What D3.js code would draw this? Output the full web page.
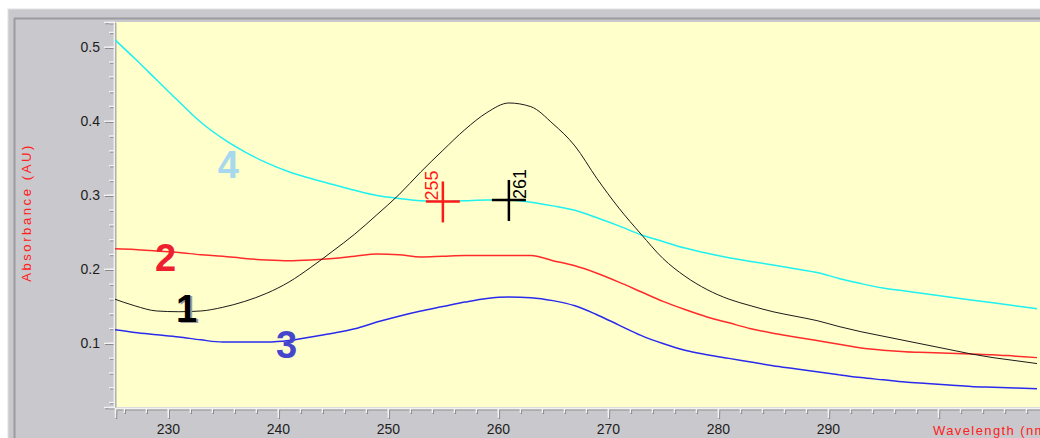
<!DOCTYPE html>
<html>
<head>
<meta charset="utf-8">
<script src="https://cdn.jsdelivr.net/npm/d3@7"></script>
<style>
  body { margin: 0; background: #fff; }
  svg { display: block; }
  text { font-family: "Liberation Sans", Arial, sans-serif; }
</style>
</head>
<body>
<div id="chart"></div>
<script>
// wavelength samples (nm)
var wavelengths = [225, 227, 229, 231, 233, 235, 237, 239, 241, 243, 245, 247, 249, 251,
  253, 255, 257, 259, 261, 263, 265, 267, 269, 271, 273, 275, 277, 279, 281, 283, 285,
  287, 289, 291, 293, 295, 297, 299, 301, 303, 305, 307, 309];

// absorbance (AU) for each trace
var trace1 = [0.160, 0.150, 0.143, 0.142, 0.143, 0.148, 0.156, 0.167, 0.182, 0.202, 0.224,
  0.247, 0.273, 0.300, 0.331, 0.360, 0.388, 0.411, 0.424, 0.419, 0.396, 0.366, 0.322,
  0.282, 0.247, 0.214, 0.190, 0.172, 0.159, 0.150, 0.142, 0.136, 0.130, 0.122, 0.115,
  0.109, 0.103, 0.097, 0.091, 0.085, 0.080, 0.076, 0.072];
var trace2 = [0.227, 0.226, 0.224, 0.222, 0.219, 0.217, 0.214, 0.212, 0.211, 0.212, 0.214,
  0.217, 0.220, 0.219, 0.216, 0.217, 0.218, 0.218, 0.218, 0.218, 0.211, 0.204, 0.194,
  0.182, 0.169, 0.156, 0.145, 0.135, 0.127, 0.119, 0.113, 0.108, 0.103, 0.098, 0.093,
  0.090, 0.088, 0.087, 0.086, 0.085, 0.084, 0.082, 0.080];
var trace3 = [0.118, 0.114, 0.111, 0.108, 0.104, 0.101, 0.101, 0.101, 0.103, 0.108, 0.113,
  0.119, 0.128, 0.136, 0.143, 0.149, 0.155, 0.160, 0.162, 0.161, 0.157, 0.150, 0.138,
  0.124, 0.110, 0.099, 0.090, 0.084, 0.079, 0.074, 0.069, 0.065, 0.061, 0.057, 0.053,
  0.050, 0.047, 0.045, 0.043, 0.041, 0.040, 0.039, 0.038];
var trace4 = [0.512, 0.484, 0.455, 0.426, 0.398, 0.376, 0.358, 0.343, 0.331, 0.322, 0.314,
  0.306, 0.299, 0.295, 0.292, 0.291, 0.292, 0.293, 0.293, 0.290, 0.285, 0.279, 0.269,
  0.258, 0.246, 0.237, 0.228, 0.221, 0.215, 0.210, 0.205, 0.200, 0.195, 0.187, 0.180,
  0.174, 0.170, 0.166, 0.162, 0.158, 0.154, 0.150, 0.146];

var traceColors = ["#1a1a1a", "#ff2b2b", "#2a2aee", "#1ff0f0"];
var traceWidths = [1, 1.5, 1.5, 1.5];

// big number labels next to each trace: [text, wavelength, absorbance]
var traceLabels = [["1", 231.7, 0.128], ["2", 229.8, 0.197], ["3", 240.8, 0.079], ["4", 235.5, 0.323]];
var traceLabelColors = ["#000000", "#ee2030", "#4646cc", "#a6d8ee"];

// peak markers: wavelength, absorbance, label
var markerNm = [255, 261];
var markerAbs = [0.291, 0.293];
var markerText = ["255", "261"];
var markerColors = ["#ff1a1a", "#000000"];

var yTicks = [0.1, 0.2, 0.3, 0.4, 0.5];
var xTicks = [230, 240, 250, 260, 270, 280, 290, 300];
var xTickLabels = ["230", "240", "250", "260", "270", "280", "290", ""];

var W = 1040, H = 438;
var plot = {left: 115, top: 22, right: 1048, bottom: 407};

var svg = d3.select("#chart").append("svg")
    .attr("width", W)
    .attr("height", H);

// window frame
svg.append("rect").attr("x", 8).attr("y", 9).attr("width", W).attr("height", H)
    .attr("fill", "#c9c8cd").attr("stroke", "#e2e2e4");
svg.append("line").attr("x1", 14).attr("x2", W).attr("y1", 18.5).attr("y2", 18.5)
    .attr("stroke", "#9c9ca0").attr("stroke-width", 2);
svg.append("line").attr("x1", 14.5).attr("x2", 14.5).attr("y1", 18).attr("y2", H)
    .attr("stroke", "#9c9ca0").attr("stroke-width", 2);

var x = d3.scaleLinear().domain([225.2, 310]).range([plot.left, plot.right]);
var y = d3.scaleLinear().domain([0.0133, 0.5334]).range([plot.bottom, plot.top]);

svg.append("defs").append("clipPath").attr("id", "clip")
  .append("rect")
    .attr("x", plot.left).attr("y", plot.top)
    .attr("width", plot.right - plot.left).attr("height", plot.bottom - plot.top);

svg.append("rect")
    .attr("x", plot.left).attr("y", plot.top)
    .attr("width", plot.right - plot.left).attr("height", plot.bottom - plot.top)
    .attr("fill", "#ffffcc");

// axes: light tick marks with a dark shadow under them
function drawAxes(dx, dy, color, labels) {
  var yMinor = d3.axisLeft(y).tickValues(d3.range(0.02, 0.53, 0.02)).tickSize(5).tickFormat("");
  var yMajor = d3.axisLeft(y).tickValues(yTicks).tickSize(10).tickPadding(4)
      .tickFormat(labels ? d3.format(".1f") : "");
  var xMinor = d3.axisBottom(x).tickValues(d3.range(226, 310, 2)).tickSize(5).tickFormat("");
  var xMajor = d3.axisBottom(x).tickValues(xTicks).tickSize(10).tickPadding(6)
      .tickFormat(function(d, i) { return labels ? xTickLabels[i] : ""; });

  [yMinor, yMajor].forEach(function(ax) {
    svg.append("g")
        .attr("class", "yaxis")
        .attr("transform", "translate(" + (plot.left - 1 + dx) + "," + dy + ")")
        .call(ax);
  });
  [xMinor, xMajor].forEach(function(ax) {
    svg.append("g")
        .attr("class", "xaxis")
        .attr("transform", "translate(" + dx + "," + (plot.bottom + 1 + dy) + ")")
        .call(ax);
  });
  svg.selectAll("g.yaxis, g.xaxis").filter(function() { return !this.dataset.done; })
      .each(function() {
        this.dataset.done = 1;
        var g = d3.select(this);
        g.selectAll("line").attr("stroke", color).attr("stroke-width", 1.4);
        g.select(".domain").attr("stroke", color).attr("stroke-width", 1.4);
        g.selectAll("text").attr("fill", "#1e1e1e").style("font-size", "14px")
          .style("font-family", "'Liberation Sans', Arial, sans-serif");
      });
}
drawAxes(1, 1, "#8a8a8e", false);
drawAxes(0, 0, "#f2f2f2", true);

svg.append("text")
    .attr("transform", "translate(31," + ((plot.top + plot.bottom) / 2 - 2) + ") rotate(-90)")
    .attr("text-anchor", "middle")
    .attr("fill", "#ff2020")
    .style("font-size", "13px")
    .style("letter-spacing", "2.6px")
    .text("Absorbance (AU)");

svg.append("text")
    .attr("x", 933).attr("y", 435)
    .attr("fill", "#ff2020")
    .style("font-size", "13px")
    .style("letter-spacing", "1.4px")
    .text("Wavelength (nm)");

// traces
var traces = [trace1, trace2, trace3, trace4];
var line = d3.line()
    .x(function(d, i) { return x(wavelengths[i]); })
    .y(function(d) { return y(d); })
    .curve(d3.curveMonotoneX);

var lines = svg.append("g").attr("clip-path", "url(#clip)");
// draw cyan first so the others sit on top of it, as in the picture
[3, 2, 1, 0].forEach(function(k) {
  lines.append("path")
      .datum(traces[k])
      .attr("fill", "none")
      .attr("stroke", traceColors[k])
      .attr("stroke-width", traceWidths[k])
      .attr("d", line);
});

// peak markers
markerNm.forEach(function(nm, i) {
  var cx = x(nm), cy = y(markerAbs[i]);
  var g = lines.append("g").attr("stroke", markerColors[i]).attr("stroke-width", 2.5);
  g.append("line").attr("x1", cx - 17).attr("x2", cx + 17).attr("y1", cy).attr("y2", cy);
  g.append("line").attr("x1", cx).attr("x2", cx).attr("y1", cy - 20).attr("y2", cy + 21);
  var tx = i === 0 ? cx - 5 : cx + 17;
  lines.append("text")
      .attr("transform", "translate(" + tx + "," + (cy - 1) + ") rotate(-90)")
      .attr("fill", markerColors[i])
      .style("font-size", "18px")
      .text(markerText[i]);
});

// number labels
traceLabels.forEach(function(d, i) {
  var tx = x(d[1]), ty = y(d[2]);
  if (i === 0) {
    lines.append("text")
        .attr("x", tx + 2).attr("y", ty + 1)
        .attr("text-anchor", "middle")
        .attr("fill", "#9a9a9a")
        .style("font-size", "38px").style("font-weight", "bold")
        .text(d[0]);
  }
  lines.append("text")
      .attr("x", tx).attr("y", ty)
      .attr("text-anchor", "middle")
      .attr("fill", traceLabelColors[i])
      .style("font-size", "38px").style("font-weight", "bold")
      .text(d[0]);
});
</script>
</body>
</html>
